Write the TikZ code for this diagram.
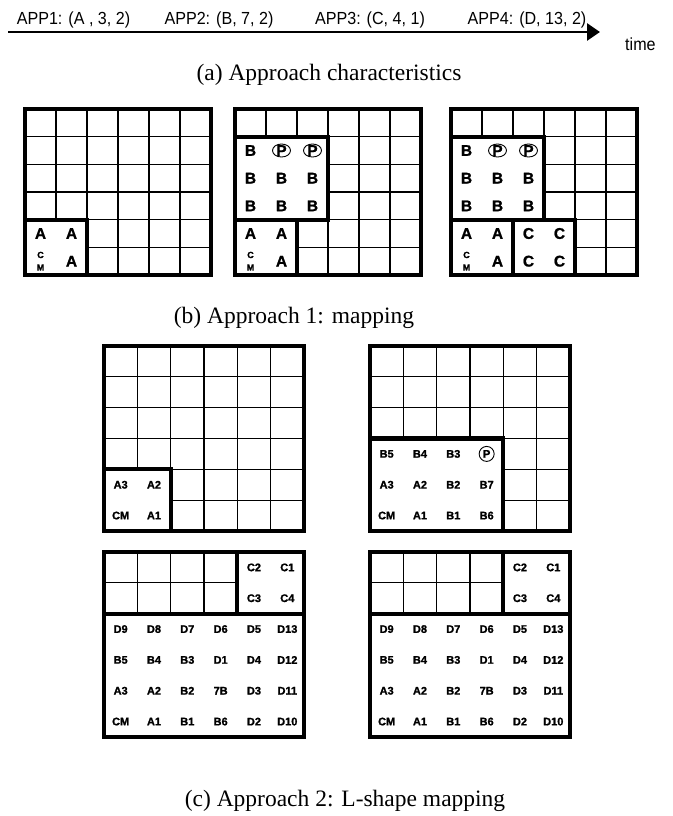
\documentclass[tikz,border=0pt]{standalone}
\usepackage{fontspec}
\setmainfont{Liberation Serif}
\setsansfont{Liberation Sans}
\newfontfamily\narrowsans[FakeStretch=0.92]{Liberation Sans}
\newfontfamily\heavysans[FakeBold=1.2]{Liberation Sans Bold}
\usetikzlibrary{%
	arrows.meta,%
	shapes.geometric,%
	positioning,%
}
\tikzset{
	>=Triangle,%
	gridline/.style={%
			draw,%
			line width=1.3pt},%
	frameline/.style={%
			draw,%
			line width=4.8pt},%
	blockline/.style={%
			draw,%
			fill=white,%
			line width=4.2pt},%
	ringline/.style={%
			draw,%
			line width=0.9pt},%
	timeline/.style={%
			draw,%
			line width=2.8pt,%
			-{Triangle[length=13pt, width=17pt]}},%
	applabel/.style={%
			font=\narrowsans\fontsize{17.5}{19}\selectfont,%
			inner sep=0pt,%
			anchor=base},%
	caption/.style={%
			font=\fontsize{23.5}{26}\selectfont,%
			inner sep=0pt,%
			anchor=base},%
	bigtag/.style={%
			font=\heavysans\fontsize{15.5}{17}\selectfont,%
			inner sep=0pt},%
	smalltag/.style={%
			font=\heavysans\fontsize{11}{12}\selectfont,%
			inner sep=0pt},%
	stacktag/.style={%
			font=\heavysans\fontsize{9}{12.5}\selectfont,%
			inner sep=0pt,%
			align=center},%
}
\newcommand{\thingrid}{%
	\foreach \i in {1,...,5} {%
			\draw[gridline] (\i,0) -- (\i,6);
			\draw[gridline] (0,\i) -- (6,\i);
		}}
\newcommand{\appablock}[1]{%
	\draw[blockline] (0,4) rectangle (2,6);
	\node[bigtag] (#1-a1) at (0.5,4.5) {A};
	\node[bigtag] (#1-a2) at (1.5,4.5) {A};
	\node[bigtag] (#1-a3) at (1.5,5.5) {A};
	\node[stacktag] (#1-cm) at (0.5,5.5) {C\\M};}
\newcommand{\appbblock}[1]{%
	\draw[blockline] (0,1) rectangle (3,4);
	\node[bigtag] (#1-b0) at (0.5,1.5) {B};
	\node[bigtag] (#1-p1) at (1.5,1.5) {P};
	\node[bigtag] (#1-p2) at (2.5,1.5) {P};
	\draw[ringline] (#1-p1.center) ellipse [x radius=9pt, y radius=6.5pt];
	\draw[ringline] (#1-p2.center) ellipse [x radius=9pt, y radius=6.5pt];
	\foreach \r in {2,3} {%
			\foreach \c in {0,1,2} {%
					\node[bigtag] (#1-b\r\c) at (\c+0.5,\r+0.5) {B};
				}}}
\newcommand{\lshapegrid}[1]{%
	\thingrid
	\draw[blockline] (4,0) rectangle (6,2);
	\node[smalltag] (#1-c2) at (4.5,0.5) {C2};
	\node[smalltag] (#1-c1) at (5.5,0.5) {C1};
	\node[smalltag] (#1-c3) at (4.5,1.5) {C3};
	\node[smalltag] (#1-c4) at (5.5,1.5) {C4};
	\draw[blockline] (0,2) rectangle (6,6);
	\foreach \r/\row in {2/{D9,D8,D7,D6,D5,D13}, 3/{B5,B4,B3,D1,D4,D12}, 4/{A3,A2,B2,7B,D3,D11}, 5/{CM,A1,B1,B6,D2,D10}} {%
			\foreach \lbl [count=\c from 0] in \row {%
					\node[smalltag] (#1-\r-\c) at (\c+0.5,\r+0.5) {\lbl};
				}}
	\draw[frameline] (0,0) rectangle (6,6);}

\begin{document}
\begin{tikzpicture}[x=1pt, y=-1pt]
	\useasboundingbox (0,0) rectangle (672,816);

	\coordinate (t0) at (8,32);
	\coordinate (t1) at (600,32);
	\draw[timeline] (t0) -- (t1);
	\node[applabel] (app1) at (73.5,24.5) {APP1: (A , 3, 2)};
	\node[applabel] (app2) at (219,24.5) {APP2: (B, 7, 2)};
	\node[applabel] (app3) at (370,24.5) {APP3: (C, 4, 1)};
	\node[applabel] (app4) at (527,24.5) {APP4: (D, 13, 2)};
	\node[applabel, below right=6pt and 25pt of t1] (time) {time};
	\node[caption] (capa) at (329,80) {(a) Approach characteristics};

	\begin{scope}[shift={(25,109)}, x=31pt, y=-27.67pt]
		\thingrid
		\appablock{m1}
		\draw[frameline] (0,0) rectangle (6,6);
	\end{scope}

	\begin{scope}[shift={(235,109)}, x=31pt, y=-27.67pt]
		\thingrid
		\appbblock{m2}
		\appablock{m2}
		\draw[frameline] (0,0) rectangle (6,6);
	\end{scope}

	\begin{scope}[shift={(451,109)}, x=31pt, y=-27.67pt]
		\thingrid
		\appbblock{m3}
		\appablock{m3}
		\draw[blockline] (2,4) rectangle (4,6);
		\node[bigtag] (m3-c1) at (2.5,4.5) {C};
		\node[bigtag] (m3-c2) at (3.5,4.5) {C};
		\node[bigtag] (m3-c3) at (2.5,5.5) {C};
		\node[bigtag] (m3-c4) at (3.5,5.5) {C};
		\draw[frameline] (0,0) rectangle (6,6);
	\end{scope}

	\node[caption] (capb) at (294,323) {(b) Approach 1: mapping};

	\begin{scope}[shift={(104,346)}, x=33.33pt, y=-30.83pt]
		\thingrid
		\draw[blockline] (0,4) rectangle (2,6);
		\node[smalltag] (l1-a3) at (0.5,4.5) {A3};
		\node[smalltag] (l1-a2) at (1.5,4.5) {A2};
		\node[smalltag] (l1-cm) at (0.5,5.5) {CM};
		\node[smalltag] (l1-a1) at (1.5,5.5) {A1};
		\draw[frameline] (0,0) rectangle (6,6);
	\end{scope}

	\begin{scope}[shift={(370,346)}, x=33.33pt, y=-30.83pt]
		\thingrid
		\draw[blockline] (0,3) rectangle (4,6);
		\foreach \r/\row in {3/{B5,B4,B3}, 4/{A3,A2,B2,B7}, 5/{CM,A1,B1,B6}} {%
				\foreach \lbl [count=\c from 0] in \row {%
						\node[smalltag] (l2-\r-\c) at (\c+0.5,\r+0.5) {\lbl};
					}}
		\node[smalltag] (l2-p) at (3.5,3.5) {P};
		\draw[ringline] (l2-p.center) circle [radius=7.5pt];
		\draw[frameline] (0,0) rectangle (6,6);
	\end{scope}

	\begin{scope}[shift={(104,552)}, x=33.33pt, y=-30.83pt]
		\lshapegrid{l3}
	\end{scope}

	\begin{scope}[shift={(370,552)}, x=33.33pt, y=-30.83pt]
		\lshapegrid{l4}
	\end{scope}

	\node[caption] (capc) at (345,806) {(c) Approach 2: L-shape mapping};
\end{tikzpicture}
\end{document}
